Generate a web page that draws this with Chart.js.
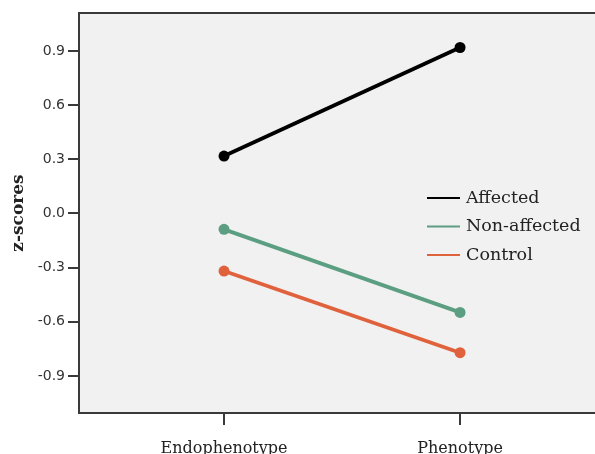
<!DOCTYPE html>
<html>
<head>
<meta charset="utf-8">
<script src="https://cdn.jsdelivr.net/npm/chart.js@4.4.0/dist/chart.umd.min.js"></script>
<style>
  html, body { margin: 0; padding: 0; background: #fff; overflow: hidden; }
  canvas { display: block; }
</style>
</head>
<body>
<canvas id="chart" width="606" height="454"></canvas>
<script>
const categories = ["Endophenotype", "Phenotype"];
const groups = ["Affected", "Non-affected", "Control"];
const affected = [0.318, 0.919];
const nonAffected = [-0.088, -0.548];
const control = [-0.319, -0.771];
const yTicks = [-0.9, -0.6, -0.3, 0.0, 0.3, 0.6, 0.9];
const colors = ["#000000", "#5c9e81", "#e0623d"];

const serif = "'DejaVu Serif', serif";
const sans = "'DejaVu Sans', sans-serif";

// gray plot area + top border
const plotFrame = {
    id: "plotFrame",
    beforeDraw(chart) {
        const { ctx, chartArea: a } = chart;
        ctx.save();
        ctx.fillStyle = "#f1f1f1";
        ctx.fillRect(a.left, a.top, a.right - a.left, a.bottom - a.top);
        ctx.strokeStyle = "#3a3a3a";
        ctx.lineWidth = 2;
        ctx.beginPath();
        ctx.moveTo(a.left, a.top);
        ctx.lineTo(a.right, a.top);
        ctx.stroke();
        ctx.restore();
    }
};

// legend inside the plot, lines + serif labels
const innerLegend = {
    id: "innerLegend",
    afterDraw(chart) {
        const { ctx } = chart;
        const x0 = 427, y0 = 198, rowH = 28.5;
        ctx.save();
        ctx.font = "17.5px " + serif;
        ctx.textBaseline = "middle";
        chart.data.datasets.forEach((ds, i) => {
            const y = y0 + i * rowH;
            ctx.strokeStyle = ds.borderColor;
            ctx.lineWidth = 2;
            ctx.beginPath();
            ctx.moveTo(x0, y);
            ctx.lineTo(x0 + 33, y);
            ctx.stroke();
            ctx.fillStyle = "#222";
            ctx.fillText(ds.label, x0 + 39, y);
        });
        ctx.restore();
    }
};

const series = [affected, nonAffected, control];

new Chart(document.getElementById("chart"), {
    type: "line",
    data: {
        datasets: series.map((vals, i) => ({
            label: groups[i],
            data: vals.map((v, j) => ({ x: j, y: v })),
            borderColor: colors[i],
            backgroundColor: colors[i],
            borderWidth: 3.8,
            pointRadius: 5.5,
            pointBorderWidth: 0,
            tension: 0
        }))
    },
    options: {
        responsive: false,
        animation: false,
        devicePixelRatio: 1,
        layout: { padding: { top: 13, right: 1, left: 8, bottom: 0 } },
        plugins: { legend: { display: false }, tooltip: { enabled: false } },
        scales: {
            x: {
                type: "linear",
                min: -0.6144,
                max: 1.595,
                afterBuildTicks: axis => { axis.ticks = [{ value: 0 }, { value: 1 }]; },
                afterFit: axis => { axis.height = 41; },
                ticks: {
                    callback: v => categories[v],
                    color: "#222",
                    font: { family: serif, size: 16 },
                    padding: 14,
                    maxRotation: 0,
                    autoSkip: false
                },
                grid: { drawOnChartArea: false, tickLength: 12, color: "#3a3a3a", lineWidth: 2 },
                border: { color: "#3a3a3a", width: 2 }
            },
            y: {
                min: -1.105,
                max: 1.11,
                afterBuildTicks: axis => { axis.ticks = yTicks.map(v => ({ value: v })); },
                afterFit: axis => { axis.width = 71; },
                ticks: {
                    callback: v => v.toFixed(1),
                    color: "#333",
                    font: { family: sans, size: 14 },
                    padding: 3
                },
                grid: { drawOnChartArea: false, tickLength: 11, color: "#3a3a3a", lineWidth: 2 },
                border: { color: "#3a3a3a", width: 2 },
                title: {
                    display: true,
                    text: "z-scores",
                    color: "#222",
                    font: { family: serif, size: 17, weight: "bold" },
                    padding: { top: 0, bottom: 0 }
                }
            }
        }
    },
    plugins: [plotFrame, innerLegend]
});
</script>
</body>
</html>
